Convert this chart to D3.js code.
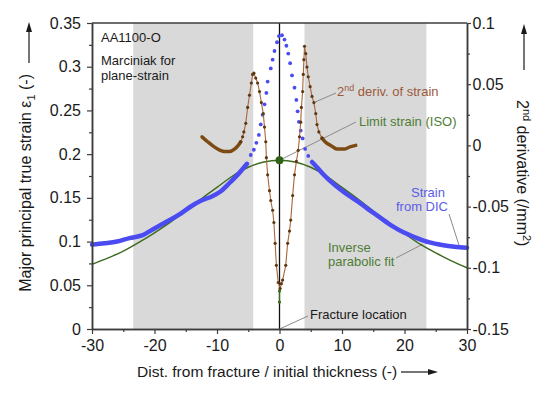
<!DOCTYPE html>
<html>
<head>
<meta charset="utf-8">
<script src="https://cdn.jsdelivr.net/npm/d3@7"></script>
<style>
  body { margin: 0; background: #fff; }
  svg { display: block; font-family: "Liberation Sans", Arial, sans-serif; }
</style>
</head>
<body>
<div id="chart"></div>
<script>
'use strict';

// axes
const xTicks = [-30, -20, -10, 0, 10, 20, 30];
const xMinorTicks = [-25, -15, -5, 5, 15, 25];
const strainTicks = [0, 0.05, 0.1, 0.15, 0.2, 0.25, 0.3, 0.35];
const strainMinorTicks = [0.025, 0.075, 0.125, 0.175, 0.225, 0.275, 0.325];
const derivTicks = [0.1, 0.05, 0, -0.05, -0.1, -0.15];
const derivMinorTicks = [0.075, 0.025, -0.025, -0.075, -0.125];

// grey zones (dist. units)
const greyBands = [[-23.4, -4.2], [4.0, 23.5]];

// strain from DIC (left axis)
const strainLeft = [
  [-30, 0.0965], [-28, 0.098], [-26, 0.1], [-24, 0.104], [-22, 0.107], [-20, 0.115],
  [-18, 0.123], [-16, 0.131], [-14, 0.141], [-12.5, 0.147], [-11, 0.151], [-9.5, 0.157],
  [-8, 0.167], [-6.5, 0.178], [-5.2, 0.189]
];
const strainCentre = [
  [-4.6, 0.199], [-4.1, 0.205], [-3.7, 0.213], [-3.3, 0.222], [-3.0, 0.234], [-2.7, 0.245],
  [-2.4, 0.257], [-2.1, 0.27], [-1.9, 0.283], [-1.4, 0.298], [-1.1, 0.308], [-0.8, 0.318],
  [-0.4, 0.328], [-0.1, 0.335], [0.4, 0.336], [0.8, 0.331], [1.1, 0.324], [1.4, 0.315],
  [1.7, 0.304], [2.0, 0.29], [2.4, 0.276], [2.7, 0.262], [2.9, 0.249], [3.1, 0.237],
  [3.4, 0.227], [3.7, 0.218], [4.1, 0.206], [4.6, 0.198]
];
const strainRight = [
  [5.2, 0.191], [6, 0.185], [7, 0.177], [8, 0.17], [9.5, 0.161], [11, 0.153], [12.5, 0.146],
  [14, 0.138], [16, 0.128], [18, 0.118], [20, 0.11], [22, 0.104], [24, 0.099], [26, 0.096],
  [28, 0.094], [30, 0.093]
];

// inverse parabolic fit (left axis)
const parabolicFit = [
  [-30, 0.074], [-27.5, 0.081], [-25, 0.089], [-22.5, 0.099], [-20, 0.110], [-17.5, 0.122],
  [-15, 0.135], [-12.5, 0.149], [-10, 0.162], [-7.5, 0.175], [-5, 0.185], [-2.5, 0.191],
  [0, 0.193], [2.5, 0.191], [5, 0.185], [7.5, 0.175], [10, 0.162], [12.5, 0.149],
  [15, 0.135], [17.5, 0.121], [20, 0.109], [22.5, 0.097], [25, 0.087], [27.5, 0.078], [30, 0.070]
];
const limitStrain = [[0, 0.193]];

// 2nd derivative of strain (right axis)
const derivLeft = [
  [-12.4, 0.007], [-11.5, 0.003], [-10.5, -0.001], [-9.5, -0.004], [-8.8, -0.005],
  [-8.0, -0.005], [-7.2, -0.003], [-6.6, 0.0], [-6.2, 0.003]
];
const derivCentre = [
  [-6.2, 0.003], [-5.9, 0.007], [-5.7, 0.011], [-5.4, 0.018], [-5.1, 0.031], [-4.8, 0.041],
  [-4.5, 0.051], [-4.3, 0.058], [-4.1, 0.059], [-3.8, 0.055], [-3.5, 0.051], [-3.2, 0.044],
  [-2.9, 0.035], [-2.6, 0.026], [-2.4, 0.015], [-2.2, 0.003], [-2.1, -0.01], [-1.9, -0.024],
  [-1.6, -0.037], [-1.4, -0.045], [-1.1, -0.053], [-0.9, -0.063], [-0.7, -0.08], [-0.5, -0.098],
  [-0.2, -0.112], [0.1, -0.117], [0.3, -0.113], [0.5, -0.11], [1.0, -0.098], [1.3, -0.08],
  [1.6, -0.07], [1.8, -0.061], [2.1, -0.041], [2.4, -0.024], [2.7, -0.013], [3.0, -0.004],
  [3.2, 0.007], [3.4, 0.019], [3.5, 0.031], [3.7, 0.044], [3.8, 0.058], [3.9, 0.07],
  [4.0, 0.081], [4.2, 0.075], [4.4, 0.064], [4.6, 0.056], [4.9, 0.048], [5.2, 0.04],
  [5.5, 0.035], [5.8, 0.026], [6.0, 0.017], [6.3, 0.011], [6.8, 0.006]
];
const derivRight = [
  [6.8, 0.006], [7.5, 0.002], [8.2, 0.0], [9.2, -0.003], [10.3, -0.003], [11.4, -0.001], [12.2, 0.0]
];
const fractureMarks = [[0, -0.119], [0, -0.128]];

const colors = {
  axis: "#3c3c3c",
  band: "#d9d9d9",
  blue: "#4b4bf2",
  blueText: "#5c5ce6",
  green: "#3b6a1e",
  greenText: "#4f7d35",
  brownThick: "#7e4a14",
  brownThin: "#a8673a",
  brownDot: "#5e3812",
  brownText: "#9c5a3a",
  leader: "#8a8a8a"
};

const width = 550;
const height = 394;
const margin = {top: 23, right: 83, bottom: 65, left: 92};

const svg = d3.select("#chart")
  .append("svg")
  .attr("width", width)
  .attr("height", height);

const x = d3.scaleLinear()
  .domain([-30, 30])
  .range([margin.left, width - margin.right]);

const yL = d3.scaleLinear()
  .domain([0, 0.35])
  .range([height - margin.bottom, margin.top]);

const yR = d3.scaleLinear()
  .domain([-0.15, 0.1])
  .range([height - margin.bottom, margin.top]);

const plotTop = yL.range()[1];
const plotBottom = yL.range()[0];

// grey zones
svg.append("g")
  .selectAll("rect")
  .data(greyBands)
  .enter()
  .append("rect")
  .attr("x", d => x(d[0]))
  .attr("y", plotTop)
  .attr("width", d => x(d[1]) - x(d[0]))
  .attr("height", plotBottom - plotTop)
  .attr("fill", colors.band);

// fracture line + top frame
svg.append("line")
  .attr("x1", x(0)).attr("x2", x(0))
  .attr("y1", plotTop).attr("y2", plotBottom)
  .attr("stroke", "#111").attr("stroke-width", 1.3);

svg.append("line")
  .attr("x1", x.range()[0]).attr("x2", x.range()[1])
  .attr("y1", plotTop).attr("y2", plotTop)
  .attr("stroke", colors.axis).attr("stroke-width", 1.5);

const lineL = d3.line().x(d => x(d[0])).y(d => yL(d[1])).curve(d3.curveMonotoneX);
const lineR = d3.line().x(d => x(d[0])).y(d => yR(d[1]));
const lineRsmooth = d3.line().x(d => x(d[0])).y(d => yR(d[1])).curve(d3.curveMonotoneX);

// leader lines
const leaders = [
  {from: [x(5.5), yR(0.035)], to: [336, 93]},
  {from: [x(0), yL(0.193)], to: [356, 122]},
  {from: [x(28.8), yL(0.094)], to: [449, 214]},
  {from: [x(22.9), yL(0.097)], to: [396, 258]},
  {from: [x(0), yL(0)], to: [308, 316]}
];
svg.append("g")
  .selectAll("line")
  .data(leaders)
  .enter()
  .append("line")
  .attr("x1", d => d.from[0]).attr("y1", d => d.from[1])
  .attr("x2", d => d.to[0]).attr("y2", d => d.to[1])
  .attr("stroke", colors.leader)
  .attr("stroke-width", 1);

// parabolic fit
svg.append("path")
  .attr("d", lineL(parabolicFit))
  .attr("fill", "none")
  .attr("stroke", colors.green)
  .attr("stroke-width", 1.4);

// strain from DIC
[strainLeft, strainRight].forEach(part => {
  svg.append("path")
    .attr("d", lineL(part))
    .attr("fill", "none")
    .attr("stroke", colors.blue)
    .attr("stroke-width", 4.5)
    .attr("stroke-linecap", "round");
});
svg.append("g")
  .selectAll("circle")
  .data(strainCentre)
  .enter()
  .append("circle")
  .attr("cx", d => x(d[0]))
  .attr("cy", d => yL(d[1]))
  .attr("r", 1.9)
  .attr("fill", colors.blue);

// 2nd derivative
[derivLeft, derivRight].forEach(part => {
  svg.append("path")
    .attr("d", lineRsmooth(part))
    .attr("fill", "none")
    .attr("stroke", colors.brownThick)
    .attr("stroke-width", 3.5)
    .attr("stroke-linecap", "round");
});
svg.append("path")
  .attr("d", lineR(derivCentre))
  .attr("fill", "none")
  .attr("stroke", colors.brownThin)
  .attr("stroke-width", 1.1);
svg.append("g")
  .selectAll("circle")
  .data(derivCentre)
  .enter()
  .append("circle")
  .attr("cx", d => x(d[0]))
  .attr("cy", d => yR(d[1]))
  .attr("r", 1.6)
  .attr("fill", colors.brownDot);

svg.append("path")
  .attr("d", lineR(fractureMarks))
  .attr("stroke", colors.green)
  .attr("stroke-width", 1.2);
svg.append("g")
  .selectAll("circle")
  .data(fractureMarks)
  .enter()
  .append("circle")
  .attr("cx", d => x(d[0]))
  .attr("cy", d => yR(d[1]))
  .attr("r", 1.6)
  .attr("fill", colors.green);

// limit strain (ISO)
svg.append("g")
  .selectAll("circle")
  .data(limitStrain)
  .enter()
  .append("circle")
  .attr("cx", d => x(d[0]))
  .attr("cy", d => yL(d[1]))
  .attr("r", 4)
  .attr("fill", "#2f6218");

// axes
const fmt = d => String(+d.toFixed(2));

function styleAxis(g, size) {
  g.attr("font-size", size).attr("font-family", null);
  g.select(".domain").attr("stroke", colors.axis).attr("stroke-width", 1.5);
  g.selectAll(".tick line").attr("stroke", colors.axis).attr("stroke-width", 1.2);
  g.selectAll(".tick text").attr("fill", "#1a1a1a");
}

svg.append("g")
  .attr("transform", `translate(0, ${plotBottom})`)
  .call(d3.axisBottom(x).tickValues(xTicks).tickFormat(fmt).tickSize(5).tickPadding(6).tickSizeOuter(0))
  .call(g => styleAxis(g, 16));
svg.append("g")
  .attr("transform", `translate(0, ${plotBottom})`)
  .call(d3.axisBottom(x).tickValues(xMinorTicks).tickFormat("").tickSize(3).tickSizeOuter(0))
  .call(g => styleAxis(g, 16));

svg.append("g")
  .attr("transform", `translate(${x.range()[0]}, 0)`)
  .call(d3.axisLeft(yL).tickValues(strainTicks).tickFormat(fmt).tickSize(5).tickPadding(6).tickSizeOuter(0))
  .call(g => styleAxis(g, 16));
svg.append("g")
  .attr("transform", `translate(${x.range()[0]}, 0)`)
  .call(d3.axisLeft(yL).tickValues(strainMinorTicks).tickFormat("").tickSize(3).tickSizeOuter(0))
  .call(g => styleAxis(g, 16));

svg.append("g")
  .attr("transform", `translate(${x.range()[1]}, 0)`)
  .call(d3.axisRight(yR).tickValues(derivTicks).tickFormat(fmt).tickSize(4).tickPadding(1.5).tickSizeOuter(0))
  .call(g => styleAxis(g, 16));
svg.append("g")
  .attr("transform", `translate(${x.range()[1]}, 0)`)
  .call(d3.axisRight(yR).tickValues(derivMinorTicks).tickFormat("").tickSize(3).tickSizeOuter(0))
  .call(g => styleAxis(g, 16));

// axis titles
const title = svg.append("g").attr("font-size", 16).attr("fill", "#1a1a1a");

const leftTitle = title.append("text")
  .attr("transform", "translate(31, 74) rotate(-90)")
  .attr("text-anchor", "end");
leftTitle.append("tspan").text("Major principal true strain ε");
leftTitle.append("tspan").attr("dy", 4).attr("font-size", 11).text("1");
leftTitle.append("tspan").attr("dy", -4).text(" (-)");

const rightTitle = title.append("text")
  .attr("transform", "translate(517, 100) rotate(90)");
rightTitle.append("tspan").text("2");
rightTitle.append("tspan").attr("dy", -6).attr("font-size", 11).text("nd");
rightTitle.append("tspan").attr("dy", 6).text(" derivative (/mm");
rightTitle.append("tspan").attr("dy", -6).attr("font-size", 11).text("2");
rightTitle.append("tspan").attr("dy", 6).text(")");

title.append("text")
  .attr("x", 137)
  .attr("y", 377)
  .attr("font-size", 15.5)
  .text("Dist. from fracture / initial thickness (-)");

// arrows
function arrow(x1, y1, x2, y2) {
  const a = Math.atan2(y2 - y1, x2 - x1);
  const len = 10, half = 3;
  const bx = x2 - len * Math.cos(a), by = y2 - len * Math.sin(a);
  svg.append("line")
    .attr("x1", x1).attr("y1", y1).attr("x2", bx).attr("y2", by)
    .attr("stroke", "#1a1a1a").attr("stroke-width", 1.2);
  svg.append("path")
    .attr("d", `M${x2},${y2}L${bx - half * Math.sin(a)},${by + half * Math.cos(a)}L${bx + half * Math.sin(a)},${by - half * Math.cos(a)}Z`)
    .attr("fill", "#1a1a1a");
}
arrow(29, 63, 29, 22);
arrow(524, 70, 524, 24);
arrow(401, 372, 438, 372);

// notes
const notes = [
  {text: "AA1100-O", x: 101, y: 42, color: "#1a1a1a"},
  {text: "Marciniak for", x: 101, y: 65, color: "#1a1a1a"},
  {text: "plane-strain", x: 101, y: 80, color: "#1a1a1a"},
  {text: "Limit strain (ISO)", x: 359, y: 126, color: colors.greenText},
  {text: "Strain", x: 411, y: 197, color: colors.blueText},
  {text: "from DIC", x: 396, y: 211, color: colors.blueText},
  {text: "Inverse", x: 328, y: 252, color: colors.greenText},
  {text: "parabolic fit", x: 328, y: 266, color: colors.greenText},
  {text: "Fracture location", x: 310, y: 319, color: "#1a1a1a"}
];
svg.append("g")
  .attr("font-size", 13)
  .selectAll("text")
  .data(notes)
  .enter()
  .append("text")
  .attr("x", d => d.x)
  .attr("y", d => d.y)
  .attr("fill", d => d.color)
  .text(d => d.text);

const derivNote = svg.append("text")
  .attr("x", 337)
  .attr("y", 96)
  .attr("font-size", 13)
  .attr("fill", colors.brownText);
derivNote.append("tspan").text("2");
derivNote.append("tspan").attr("dy", -5).attr("font-size", 9).text("nd");
derivNote.append("tspan").attr("dy", 5).text(" deriv. of strain");
</script>
</body>
</html>
